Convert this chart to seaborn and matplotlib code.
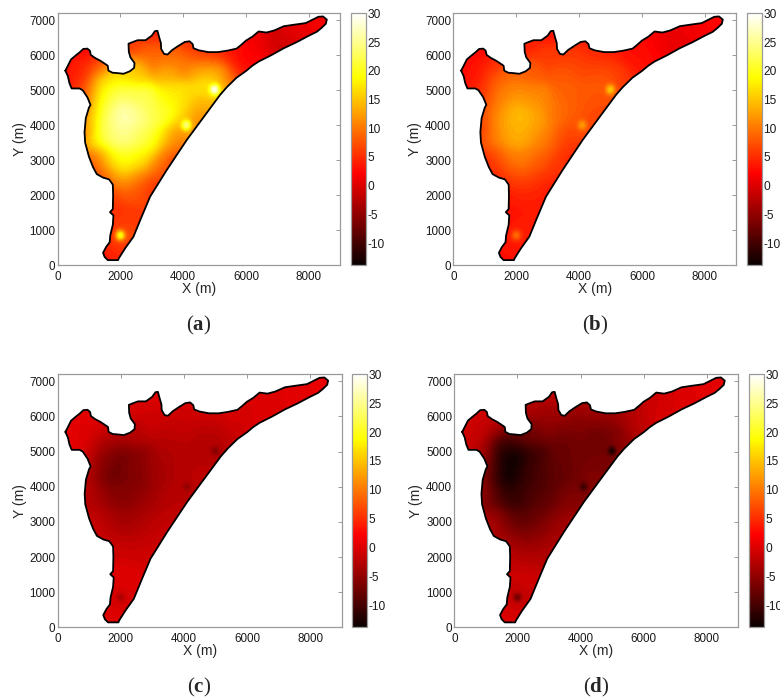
import matplotlib
matplotlib.use("Agg")
import matplotlib.pyplot as plt
import numpy as np
import pandas as pd
import seaborn as sns
from matplotlib.cm import ScalarMappable
from matplotlib.colors import Normalize
from matplotlib.patches import Polygon

# lake outline, clockwise from the west tip (m)
outline_x = [250, 330, 430, 560, 700, 820, 950, 1030, 1060, 1200, 1350, 1470, 1600, 1620, 1750, 1900, 2100,
             2300, 2440, 2450, 2320, 2270, 2260, 2400, 2550, 2800, 3000, 3100, 3180, 3240, 3290, 3300, 3390,
             3500, 3650, 3850, 4050, 4200, 4300, 4330, 4500, 4800, 5100, 5400, 5700, 5850, 6000, 6200, 6400,
             6650, 6900, 7200, 7500, 7900, 8100, 8300, 8450, 8570, 8540, 8400, 8250, 8000, 7600, 7200, 6800,
             6400, 6200, 6000, 5700, 5385, 5173, 4650, 4113, 3477, 2947, 2640, 2417, 2152, 1950, 1930, 1600,
             1500, 1450, 1550, 1660, 1680, 1760, 1780, 1670, 1760, 1770, 1760, 1640, 1450, 1250, 1130, 1000,
             880, 860, 900, 1000, 1050, 950, 800, 700, 450, 380, 330, 250]
outline_y = [5560, 5700, 5880, 5980, 6080, 6180, 6190, 6130, 6010, 5920, 5850, 5780, 5700, 5560, 5500, 5490, 5470,
             5540, 5640, 5780, 5940, 6100, 6330, 6380, 6430, 6430, 6560, 6690, 6700, 6500, 6350, 6180, 6040,
             6020, 6150, 6270, 6380, 6400, 6320, 6200, 6140, 6090, 6090, 6130, 6190, 6300, 6420, 6530, 6680,
             6650, 6710, 6830, 6870, 6920, 7010, 7100, 7110, 7020, 6900, 6780, 6670, 6560, 6370, 6200, 6000,
             5820, 5700, 5550, 5360, 5083, 4865, 4230, 3576, 2718, 1955, 1300, 810, 477, 190, 140, 140,
             230, 350, 520, 650, 850, 1150, 1420, 1510, 1600, 2000, 2300, 2450, 2500, 2600, 2800, 3100,
             3500, 3800, 4200, 4500, 4580, 4800, 5000, 5050, 5050, 5200, 5400, 5560]

# sample points
sample_x = [250, 700, 900, 1300, 500, 1000, 1500, 2000,
            2500, 2400, 3100, 3000, 3500, 4200, 4000, 3500, 4500, 5000, 5500, 4500,
            5000, 5500, 5000, 4700, 5200, 6000, 6000, 6500, 6900, 7300, 7500, 8000, 8450, 6400,
            2100, 1700, 1300, 1000, 900, 1300, 1700, 2100, 2600, 2600, 3000, 3400, 3500, 4000, 2500, 2000, 1500,
            3000, 3500, 3600, 3900, 4000, 4100, 4300, 4000, 4500, 4700,
            1300, 1100, 1700, 2200, 2700, 3200, 3300, 1500, 2000, 2600, 3000, 1770, 2200, 2700,
            1770, 2200, 2450, 1700, 2000, 2200, 1800, 2000, 2000, 1700, 1500, 1900,
            0, 1000, 3100, 8800, 8800, 2300, 1300]
sample_y = [5560, 5500, 6100, 5700, 5100, 5000, 5200, 5450,
            5500, 6300, 6650, 6000, 6000, 6350, 5800, 5500, 6100, 6050, 6100, 5500,
            5500, 5300, 5020, 5000, 5050, 6000, 5600, 6300, 6300, 6300, 6600, 6800, 7000, 5850,
            4300, 4300, 4400, 4500, 3800, 3700, 3700, 3700, 4300, 3700, 4500, 4300, 4800, 4800, 4800, 4900, 4800,
            3500, 3500, 3200, 3700, 3900, 4000, 4150, 4300, 4500, 4650,
            3100, 2800, 3000, 3000, 3000, 2900, 2600, 2550, 2500, 2500, 2200, 2000, 2000, 1900,
            1500, 1400, 1300, 1000, 850, 850, 850, 1100, 600, 400, 250, 150,
            5500, 6500, 7100, 7200, 6700, 0, 0]

field_a = [3, 4.5, 2.5, 7, 4, 9, 17, 16,
           15, 6, 4, 9, 8, 5, 10, 14, 6, 5, 3.5, 13,
           14, 7, 29, 20, 17, 2, 3.5, 1.5, -1.5, -1, 0.5, 1, 2, 2,
           28, 24, 21, 8, 9, 21, 24, 25, 25, 23, 22, 21, 18, 17, 22, 23, 21,
           20, 18, 4, 7, 17, 24, 8, 19, 15, 11,
           11, 6, 19, 20, 18, 11, 6, 7, 14, 10, 5, 6, 8, 7,
           4, 5.5, 5, 3.5, 19, 8, 7, 7, 6, 4, 3.5, 4,
           3, 2.5, 4, 2, 2, 4, 3.5]
field_b = [2.5, 3.5, 2.5, 5, 3.5, 5.5, 9, 8.5,
           8, 4, 3, 6, 5.5, 4, 6.5, 8, 4.5, 4, 3, 7,
           7, 5, 15, 8.5, 7, 3, 3.5, 2, 0.5, 0.5, 1.5, 2, 2.5, 2.5,
           15, 13.5, 11, 5.5, 5.5, 10.5, 13, 14, 13.5, 12, 10.5, 9, 8.5, 8, 11, 12, 10.5,
           9.5, 8, 3.5, 5, 8.5, 12, 5.5, 8.5, 7.5, 6.5,
           6.5, 4, 10, 10.5, 8.5, 6.5, 4.5, 4.5, 7, 6, 3.5, 3.5, 4.5, 4,
           3, 3.5, 3.5, 3, 9, 4.5, 4, 4, 3.5, 3, 3, 3,
           2.5, 2.5, 3, 2.5, 2.5, 3, 3]
field_c = [0.5, 0, 0.5, -0.5, 0.5, -1, -3, -2.5,
           -2.5, -0.5, 0, -1, -1, -0.5, -1.5, -2.5, -1, -1, -0.5, -2.5,
           -2.5, -1.5, -6, -3, -3, -1, -1, 0, 0, 0, 0.5, 0.5, 1, 0.5,
           -6.5, -8, -5.5, -1.5, -2, -3.5, -5.5, -5.5, -6, -5, -4, -3.5, -3, -2.5, -5.5, -7.5, -6.5,
           -3.5, -3, -1.5, -2, -3, -5, -2, -2.5, -2.5, -2,
           -2, -1, -3.5, -4, -3, -2, -1.5, -1.5, -2, -2, -1, -1, -1, -1,
           0.5, 0.5, 0, -0.5, -3.5, -1, -1, -0.5, -0.5, 0, 0, 0,
           0.5, 0.5, 0, 1, 1, 0, 0]
field_d = [-1, -1.5, -1, -2.5, -1.5, -4, -11, -7.5,
           -7, -3, -2, -4.5, -4, -3, -6, -7.5, -4.5, -4, -3, -7.5,
           -7, -4, -13.5, -7.5, -6, -2, -2.5, -1, -0.5, 0, 0, 0.5, 0.5, 0,
           -11.5, -14.5, -11.5, -3.5, -4, -9, -11.5, -10.5, -10, -9, -8.5, -8, -7.5, -7, -10.5, -14, -14,
           -8, -7.5, -3, -5, -7.5, -11, -4.5, -7.5, -7, -6,
           -4, -2.5, -8, -8.5, -7, -5, -3, -3, -5, -5, -3, -2, -3, -2.5,
           -1, -1, -1, -1.5, -8, -2, -2, -1.5, -1, -0.5, 0, 0,
           -1, -1, -2, 0.5, 0.5, 0, 0]

# narrow spots in the maps, they sit on sample points
well_x = [5000, 4100, 2000]
well_y = [5020, 4000, 850]

panel_names = ["a", "b", "c", "d"]
panel_fields = [field_a, field_b, field_c, field_d]
x_ticks = [0, 2000, 4000, 6000, 8000]
y_ticks = [0, 1000, 2000, 3000, 4000, 5000, 6000, 7000]
cbar_ticks = [-10, -5, 0, 5, 10, 15, 20, 25, 30]
cbar_min = -13.8
cbar_max = 30

# pixel boxes: left, right, top, bottom of map then colorbar left, right
boxes = [(57.5, 340.3, 13.3, 265, 351, 365.7),
         (453.3, 736.3, 13.3, 265, 747, 761.7),
         (57.5, 341.7, 374.3, 627.3, 352.3, 366.7),
         (454.3, 738.3, 374.3, 627.3, 749, 763.7)]
W, H = 780, 699
edge_col = "#9a9a9a"

sns.set_style("white")
plt.rcParams["font.family"] = ["Liberation Sans", "DejaVu Sans"]
plt.rcParams["axes.unicode_minus"] = False
plt.rcParams["mathtext.fontset"] = "custom"
plt.rcParams["mathtext.bf"] = "Liberation Serif:bold"
plt.rcParams["mathtext.rm"] = "Liberation Serif"

fig = plt.figure(figsize=(W / 100, H / 100), dpi=100, facecolor="white")
norm = Normalize(cbar_min, cbar_max)
levels = np.linspace(cbar_min, cbar_max, 89)
outline_df = pd.DataFrame({"x": outline_x, "y": outline_y})

# smooth the read samples onto a mesh for contouring, wells go on top as narrow spots
sx = np.array(sample_x)
sy = np.array(sample_y)
is_well = np.array([(a, b) in set(zip(well_x, well_y)) for a, b in zip(sample_x, sample_y)])
mesh_x, mesh_y = np.meshgrid(np.linspace(0, 9000, 361), np.linspace(0, 7200, 289))


def smooth_at(px, py, vals):
    d2 = (px[..., None] - sx[~is_well]) ** 2 + (py[..., None] - sy[~is_well]) ** 2
    w = np.exp(-d2 / (2 * 280.0 ** 2)) + 1e-12
    return (w * vals[~is_well]).sum(axis=-1) / w.sum(axis=-1)


for name, field, box in zip(panel_names, panel_fields, boxes):
    left, right, top, bottom, c_left, c_right = box
    ax = fig.add_axes([left / W, 1 - bottom / H, (right - left) / W, (bottom - top) / H])

    vals = np.array(field, dtype=float)
    mesh_vals = smooth_at(mesh_x, mesh_y, vals)
    for wx, wy in zip(well_x, well_y):
        base = smooth_at(np.array([float(wx)]), np.array([float(wy)]), vals)[0]
        top_val = vals[(sx == wx) & (sy == wy)][0]
        d2 = (mesh_x - wx) ** 2 + (mesh_y - wy) ** 2
        mesh_vals = mesh_vals + (top_val - base) * np.exp(-d2 / (2 * 95.0 ** 2))

    cs = ax.contourf(mesh_x, mesh_y, mesh_vals, levels=levels, cmap="hot", norm=norm, extend="both")
    cs.set_clip_path(Polygon(outline_df[["x", "y"]].values, transform=ax.transData))

    sns.lineplot(data=outline_df, x="x", y="y", sort=False, estimator=None, color="black", linewidth=1.3, ax=ax)

    ax.set_xlim(0, 9000)
    ax.set_ylim(0, 7200)
    ax.set_xticks(x_ticks)
    ax.set_yticks(y_ticks)
    ax.tick_params(direction="in", length=3, width=0.7, color=edge_col, top=True, right=True,
                   labelsize=8.4, labelcolor="#1a1a1a")
    ax.tick_params(axis="x", pad=4.2)
    ax.tick_params(axis="y", pad=1.5)
    ax.set_xlabel("X (m)", fontsize=10, labelpad=-0.5)
    ax.set_ylabel("Y (m)", fontsize=10, labelpad=2)
    for s in ax.spines.values():
        s.set_color(edge_col)
        s.set_linewidth(0.9)
        s.set_visible(True)

    cax = fig.add_axes([c_left / W, 1 - bottom / H, (c_right - c_left) / W, (bottom - top) / H])
    cb = fig.colorbar(ScalarMappable(norm=norm, cmap="hot"), cax=cax, ticks=cbar_ticks)
    cb.ax.tick_params(direction="in", length=2, width=0.7, color=edge_col, left=True, right=True,
                      labelsize=8.6, pad=1, labelcolor="#1a1a1a")
    cb.outline.set_edgecolor(edge_col)
    cb.outline.set_linewidth(0.9)

    fig.text((left + right) / 2 / W, 1 - (bottom + 60) / H, "($\\mathbf{" + name + "}$)",
             ha="center", va="center", fontsize=15, family="Liberation Serif")

fig.savefig("out.png", dpi=100)
